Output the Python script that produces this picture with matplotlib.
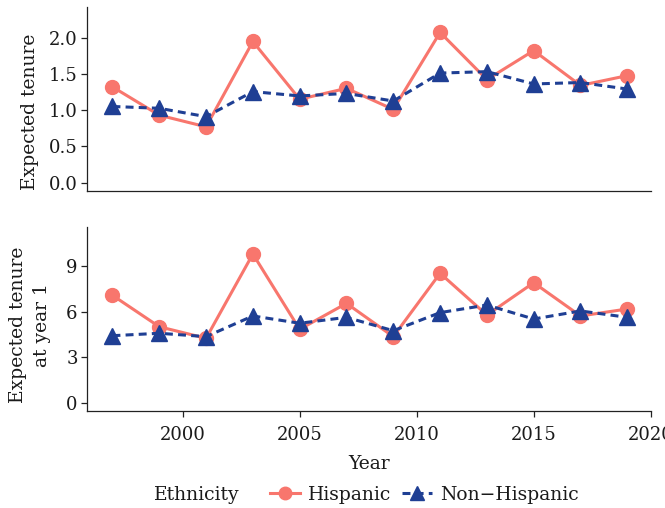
import matplotlib
matplotlib.use("Agg")
import matplotlib.pyplot as plt
from matplotlib.lines import Line2D

plt.rcParams['font.family'] = ['DejaVu Serif']

years = [1997, 1999, 2001, 2003, 2005, 2007, 2009, 2011, 2013, 2015, 2017, 2019]
hisp_tenure = [1.32, 0.93, 0.77, 1.945, 1.15, 1.30, 1.01, 2.07, 1.42, 1.82, 1.34, 1.475]
nonhisp_tenure = [1.05, 1.025, 0.91, 1.255, 1.195, 1.23, 1.125, 1.51, 1.53, 1.36, 1.38, 1.29]
hisp_year1 = [7.07, 5.0, 4.24, 9.79, 4.83, 6.54, 4.35, 8.52, 5.77, 7.9, 5.71, 6.17]
nonhisp_year1 = [4.41, 4.57, 4.35, 5.71, 5.23, 5.62, 4.74, 5.93, 6.43, 5.51, 6.04, 5.62]
xticks = [2000, 2005, 2010, 2015, 2020]
top_yticks = [0.0, 0.5, 1.0, 1.5, 2.0]
bot_yticks = [0, 3, 6, 9]

C_H = '#F8766D'
C_N = '#1F3F94'
DASH = (2.6, 1.7)
TXT = '#1a1a1a'

fig = plt.figure(figsize=(6.65, 5.08), dpi=100)
ax1 = fig.add_axes([0.1304, 0.6246, 0.8481, 0.3616])
ax2 = fig.add_axes([0.1304, 0.1915, 0.8481, 0.3611])

def style(ax):
    for s in ['top', 'right']:
        ax.spines[s].set_visible(False)
    for s in ['left', 'bottom']:
        ax.spines[s].set_linewidth(0.9)
        ax.spines[s].set_color('#222222')
    ax.tick_params(length=4, width=0.9, color='#222222', labelsize=13, pad=2.5, labelcolor=TXT)
    ax.set_xlim(1995.9, 2020.0)

for ax, h, n in [(ax1, hisp_tenure, nonhisp_tenure), (ax2, hisp_year1, nonhisp_year1)]:
    style(ax)
    ax.plot(years, h, color=C_H, lw=2.2, marker='o', markersize=10, zorder=3, clip_on=False)
    ax.plot(years, n, color=C_N, lw=2.2, ls=(0, DASH), marker='^', markersize=11, zorder=4, clip_on=False)

ax1.set_ylim(-0.11, 2.42)
ax1.set_yticks(top_yticks)
ax1.set_yticklabels([f"{v:.1f}" for v in top_yticks])
ax1.set_xticks([])

ax2.set_ylim(-0.53, 11.55)
ax2.set_yticks(bot_yticks)
ax2.set_xticks(xticks)
ax2.tick_params(axis='x', pad=7)
ax2.set_xlabel("Year", fontsize=13.5, labelpad=8, color=TXT)

# y-axis titles
fig.text(30 / 665, 1 - 112 / 508, "Expected tenure", rotation=90, fontsize=13.5,
         ha='center', va='center', color=TXT)
fig.text(30 / 665, 1 - 325 / 508, "Expected tenure\nat year 1", rotation=90, fontsize=13.5,
         ha='center', va='center', color=TXT, linespacing=1.45, multialignment='center')

handles = [
    Line2D([], [], color=C_H, lw=2.2, marker='o', markersize=9),
    Line2D([], [], color=C_N, lw=2.2, ls=(0, DASH), marker='^', markersize=10),
]
fig.text(154 / 665, 1 - 495 / 508, "Ethnicity", fontsize=13.5, va='center', ha='left', color=TXT)
leg = fig.legend(handles, ["Hispanic", "Non\u2212Hispanic"], ncol=2, frameon=False,
                 loc='center left', bbox_to_anchor=(270 / 665, 1 - 495 / 508), fontsize=13.5,
                 handlelength=1.6, handletextpad=0.45, columnspacing=0.55, borderaxespad=0, borderpad=0)
for t in leg.get_texts():
    t.set_color(TXT)

fig.savefig("out.png", dpi=100)
